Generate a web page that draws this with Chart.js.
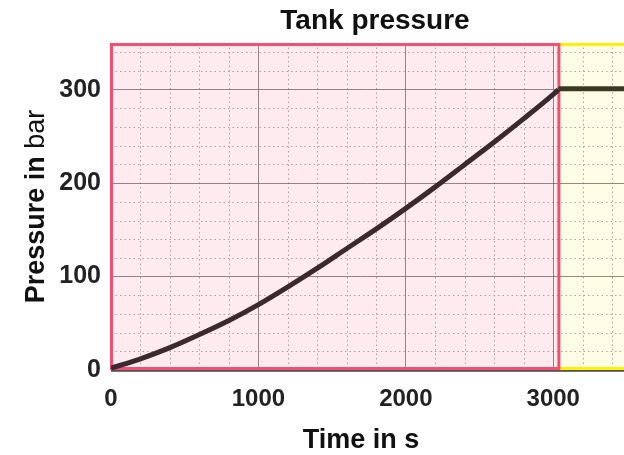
<!DOCTYPE html>
<html>
<head>
<meta charset="utf-8">
<script src="https://cdn.jsdelivr.net/npm/chart.js@4/dist/chart.umd.min.js"></script>
<style>
  html, body { margin: 0; padding: 0; background: #ffffff; overflow: hidden; }
  #wrap { width: 624px; height: 455px; position: relative; }
</style>
</head>
<body>
<div id="wrap"><canvas id="c" width="624" height="455"></canvas></div>
<script>
// Filling phase: time (s) and tank pressure (bar)
const fillTime     = [0, 200, 400, 600, 800, 1000, 1200, 1400, 1600, 1800, 2000, 2200, 2400, 2600, 2800, 3000, 3035];
const fillPressure = [2, 12, 24, 38, 53, 70, 89, 109, 130, 151, 173, 196, 220, 244, 269, 295, 300];
// Holding phase after the fill valve closes
const holdTime     = [3035, 3480];
const holdPressure = [301, 301];
// Phase boundary (s)
const fillEnd = 3035;
// Axes
const xTicks = [0, 1000, 2000, 3000];
const yTicks = [0, 100, 200, 300];
const xMinorStep = 200, yMinorStep = 20;
const xMax = 3480, yMax = 350;

const FONT = "'Liberation Sans', Arial, Helvetica, sans-serif";

const zip = (xs, ys) => xs.map((x, i) => ({ x: x, y: ys[i] }));

const phasePlugin = {
  id: 'phases',
  beforeDraw(chart) {
    const { ctx, chartArea: a, scales: { x, y } } = chart;
    const xe = x.getPixelForValue(fillEnd);
    ctx.save();
    ctx.beginPath();
    ctx.rect(a.left, a.top, a.right - a.left, a.bottom - a.top);
    ctx.clip();
    ctx.fillStyle = '#fdebf0';
    ctx.fillRect(a.left, a.top, xe - a.left, a.bottom - a.top);
    ctx.fillStyle = '#fefde5';
    ctx.fillRect(xe, a.top, a.right - xe, a.bottom - a.top);
    // minor dotted grid
    ctx.strokeStyle = 'rgba(165,135,145,0.8)';
    ctx.lineWidth = 1;
    ctx.setLineDash([1.5, 3]);
    for (let v = xMinorStep; v <= xMax; v += xMinorStep) {
      if (v % 1000 === 0) continue;
      const px = Math.round(x.getPixelForValue(v)) + 0.5;
      ctx.beginPath(); ctx.moveTo(px, a.top); ctx.lineTo(px, a.bottom); ctx.stroke();
    }
    for (let v = yMinorStep; v <= yMax; v += yMinorStep) {
      if (v % 100 === 0) continue;
      const py = Math.round(y.getPixelForValue(v)) + 0.5;
      ctx.beginPath(); ctx.moveTo(a.left, py); ctx.lineTo(a.right, py); ctx.stroke();
    }
    ctx.restore();
  },
  beforeDatasetsDraw(chart) {
    const { ctx, chartArea: a, scales: { x } } = chart;
    const xe = x.getPixelForValue(fillEnd);
    ctx.save();
    // axis line
    ctx.strokeStyle = '#444444';
    ctx.lineWidth = 1.5;
    ctx.beginPath(); ctx.moveTo(a.left, a.bottom + 1); ctx.lineTo(a.right, a.bottom + 1); ctx.stroke();
    // holding phase frame
    ctx.strokeStyle = '#fff200';
    ctx.lineWidth = 3;
    ctx.beginPath(); ctx.moveTo(xe, a.top + 1.5); ctx.lineTo(a.right, a.top + 1.5); ctx.stroke();
    ctx.beginPath(); ctx.moveTo(xe, a.bottom - 1.5); ctx.lineTo(a.right, a.bottom - 1.5); ctx.stroke();
    // filling phase frame
    ctx.strokeStyle = '#f24f72';
    ctx.lineWidth = 3;
    ctx.strokeRect(a.left + 0.5, a.top + 1.5, xe - a.left, a.bottom - a.top - 3);
    ctx.restore();
  },
  afterDraw(chart) {
    const { ctx, chartArea: a } = chart;
    ctx.save();
    ctx.fillStyle = '#111111';
    ctx.textBaseline = 'alphabetic';
    ctx.textAlign = 'center';
    ctx.font = 'bold 28px ' + FONT;
    ctx.fillText('Tank pressure', 375, 29);
    ctx.font = 'bold 27px ' + FONT;
    ctx.fillText('Time in s', 361, 448);
    // y-axis title: "Pressure in" bold, unit in regular weight
    const boldPart = 'Pressure in ', unitPart = 'bar';
    ctx.font = 'bold 27px ' + FONT;
    const w1 = ctx.measureText(boldPart).width;
    ctx.font = '27px ' + FONT;
    const w2 = ctx.measureText(unitPart).width;
    const cy = (a.top + a.bottom) / 2;
    ctx.translate(44, cy + (w1 + w2) / 2);
    ctx.rotate(-Math.PI / 2);
    ctx.textAlign = 'left';
    ctx.font = 'bold 27px ' + FONT;
    ctx.fillText(boldPart, 0, 0);
    ctx.font = '27px ' + FONT;
    ctx.fillText(unitPart, w1, 0);
    ctx.restore();
  }
};

new Chart(document.getElementById('c'), {
  type: 'line',
  data: {
    datasets: [
      {
        data: zip(fillTime, fillPressure),
        borderColor: '#3b2a2d',
        borderWidth: 5,
        pointRadius: 0,
        cubicInterpolationMode: 'monotone',
        borderCapStyle: 'butt'
      },
      {
        data: zip(holdTime, holdPressure),
        borderColor: '#3a3a22',
        borderWidth: 5,
        pointRadius: 0
      }
    ]
  },
  options: {
    responsive: false,
    animation: false,
    devicePixelRatio: 1,
    layout: { padding: { top: 43, right: 0, left: 0, bottom: 0 } },
    plugins: { legend: { display: false }, tooltip: { enabled: false }, title: { display: false } },
    scales: {
      x: {
        type: 'linear',
        min: 0,
        max: xMax,
        afterBuildTicks: s => { s.ticks = xTicks.map(v => ({ value: v })); },
        afterFit: s => { s.height = 85; },
        border: { display: false },
        grid: { color: 'rgba(115,95,100,0.75)', lineWidth: 1, drawTicks: false },
        ticks: {
          padding: 15,
          maxRotation: 0,
          color: '#222222',
          font: { family: FONT, size: 24, weight: 'bold' },
          callback: v => String(v)
        }
      },
      y: {
        type: 'linear',
        min: 0,
        max: yMax,
        afterBuildTicks: s => { s.ticks = yTicks.map(v => ({ value: v })); },
        afterFit: s => { s.width = 111; },
        border: { display: false },
        grid: { color: 'rgba(115,95,100,0.75)', lineWidth: 1, drawTicks: false },
        ticks: {
          padding: 10,
          color: '#222222',
          font: { family: FONT, size: 25, weight: 'bold' },
          callback: v => String(v)
        }
      }
    }
  },
  plugins: [phasePlugin]
});
</script>
</body>
</html>
